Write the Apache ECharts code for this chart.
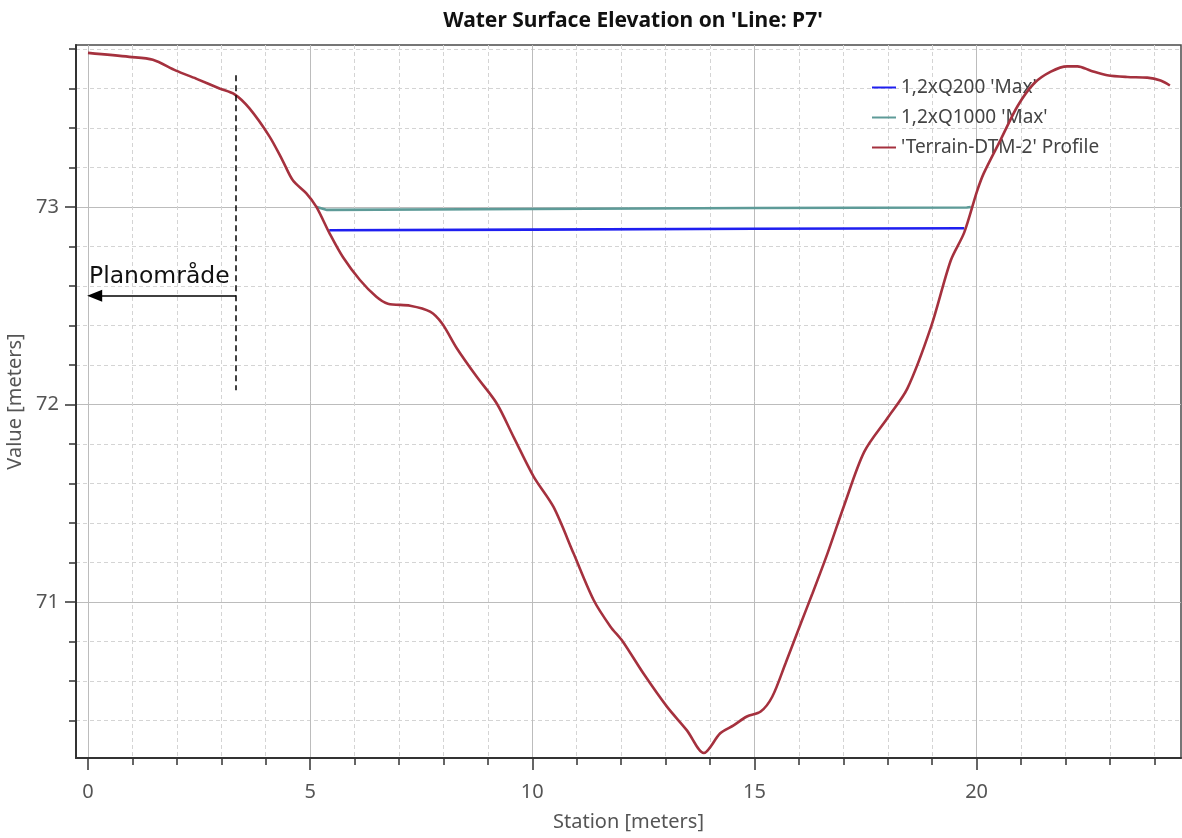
<!DOCTYPE html>
<html>
<head>
<meta charset="utf-8">
<script src="https://cdn.jsdelivr.net/npm/echarts@6/dist/echarts.min.js"></script>
<style>html,body{margin:0;padding:0;background:#fff}#chart{width:1182px;height:838px}</style>
</head>
<body>
<div id="chart"></div>
<script>
// ---- data ----
const terrainStation = [0, 0.93, 1.46, 1.98, 2.43, 2.96, 3.30, 3.63, 4.09, 4.38, 4.61, 4.91, 5.14, 5.44, 5.74, 6.12, 6.49, 6.75, 7.25, 7.70, 7.97, 8.30, 8.75, 9.20, 9.58, 10.03, 10.48, 10.93, 11.38, 11.76, 12.02, 12.51, 13.03, 13.48, 13.86, 14.23, 14.53, 14.83, 15.14, 15.40, 15.70, 16.04, 16.30, 16.65, 17.02, 17.47, 17.99, 18.44, 18.97, 19.42, 19.72, 20.01, 20.16, 20.54, 20.92, 21.29, 21.67, 22.04, 22.27, 22.57, 22.94, 23.39, 23.84, 24.14, 24.35];
const terrainElev = [73.78, 73.76, 73.745, 73.69, 73.65, 73.60, 73.57, 73.50, 73.355, 73.235, 73.135, 73.07, 73.00, 72.865, 72.745, 72.63, 72.545, 72.51, 72.50, 72.47, 72.41, 72.285, 72.14, 72.005, 71.835, 71.635, 71.48, 71.245, 71.01, 70.875, 70.805, 70.635, 70.47, 70.35, 70.235, 70.335, 70.375, 70.42, 70.445, 70.52, 70.69, 70.89, 71.04, 71.25, 71.49, 71.76, 71.93, 72.08, 72.39, 72.73, 72.87, 73.08, 73.17, 73.34, 73.51, 73.625, 73.685, 73.712, 73.712, 73.69, 73.667, 73.658, 73.655, 73.64, 73.615];
const q200Station = [5.43, 10, 15, 19.72];
const q200Elev = [72.882, 72.885, 72.89, 72.892];
const q1000Station = [5.15, 5.38, 10, 15, 19.78, 19.87];
const q1000Elev = [73.0, 72.985, 72.99, 72.995, 72.997, 73.0];
const seriesNames = ["1,2xQ200 'Max'", "1,2xQ1000 'Max'", "'Terrain-DTM-2' Profile"];
const xMajorTicks = [0, 5, 10, 15, 20];
const xMinorTicks = [0,1,2,3,4,5,6,7,8,9,10,11,12,13,14,15,16,17,18,19,20,21,22,23,24];
const yMajorTicks = [71, 72, 73];
const yMinorTicks = [70.4,70.6,70.8,71,71.2,71.4,71.6,71.8,72,72.2,72.4,72.6,72.8,73,73.2,73.4,73.6,73.8];
const xRange = [-0.27, 24.6];
const yRange = [70.21, 73.82];
// annotation (Planområde boundary)
const boundaryStation = 3.33;
const boundaryTop = 73.667;
const boundaryBottom = 72.072;
const arrowElev = 72.55;
const arrowEnd = 0.15;
const annotationText = 'Planområde';

const zip = (a, b) => a.map((v, i) => [v, b[i]]);
const FONT = 'Noto Sans';

const chart = echarts.init(document.getElementById('chart'), null, {renderer: 'canvas'});
chart.setOption({
  animation: false,
  backgroundColor: '#fff',
  title: {
    text: "Water Surface Elevation on 'Line: P7'",
    left: 628, top: 6, textAlign: 'center',
    textStyle: {fontFamily: FONT, fontSize: 21, fontWeight: 'bold', color: '#111'}
  },
  legend: {
    orient: 'vertical', left: 866, top: 73, itemWidth: 24, itemHeight: 14, itemGap: 11,
    data: seriesNames,
    itemStyle: {opacity: 0},
    textStyle: {fontFamily: FONT, fontSize: 19, color: '#444'}
  },
  grid: {left: 76, right: 1, top: 45, bottom: 80, outerBoundsMode: 'none', containLabel: false,
         show: true, borderColor: '#4a4a4a', borderWidth: 1.5, backgroundColor: 'transparent'},
  xAxis: [
    {
      type: 'value', min: xRange[0], max: xRange[1], position: 'bottom',
      axisLine: {show: true, onZero: false, lineStyle: {color: '#333', width: 2}},
      axisTick: {show: true, customValues: xMinorTicks, length: 7, lineStyle: {color: '#333', width: 1.5}},
      axisLabel: {show: false},
      splitLine: {show: true, lineStyle: {color: '#d4d4d4', width: 1, type: [4, 3]}}
    },
    {
      type: 'value', min: xRange[0], max: xRange[1], position: 'bottom',
      name: 'Station [meters]', nameLocation: 'middle', nameGap: 54,
      nameTextStyle: {fontFamily: FONT, fontSize: 20, color: '#555'},
      axisLine: {show: false, onZero: false},
      axisTick: {show: true, customValues: xMajorTicks, length: 12, lineStyle: {color: '#333', width: 1.5}},
      axisLabel: {show: true, customValues: xMajorTicks, margin: 24, fontFamily: FONT, fontSize: 20, color: '#555'},
      splitLine: {show: true, lineStyle: {color: '#bcbcbc', width: 1}}
    }
  ],
  yAxis: [
    {
      type: 'value', min: yRange[0], max: yRange[1], position: 'left',
      axisLine: {show: true, onZero: false, lineStyle: {color: '#333', width: 2}},
      axisTick: {show: true, customValues: yMinorTicks, length: 7, lineStyle: {color: '#333', width: 1.5}},
      axisLabel: {show: false},
      splitLine: {show: true, lineStyle: {color: '#d4d4d4', width: 1, type: [4, 3]}}
    },
    {
      type: 'value', min: yRange[0], max: yRange[1], position: 'left',
      name: 'Value [meters]', nameLocation: 'middle', nameGap: 36,
      nameTextStyle: {fontFamily: FONT, fontSize: 20, color: '#555'},
      axisLine: {show: false, onZero: false},
      axisTick: {show: true, customValues: yMajorTicks, length: 11, lineStyle: {color: '#333', width: 1.5}},
      axisLabel: {show: true, customValues: yMajorTicks, margin: 17, fontFamily: FONT, fontSize: 20, color: '#555'},
      splitLine: {show: true, lineStyle: {color: '#bcbcbc', width: 1}}
    }
  ],
  series: [
    {
      name: seriesNames[0], type: 'line', xAxisIndex: 0, yAxisIndex: 0,
      data: zip(q200Station, q200Elev), symbol: 'none', smooth: false,
      lineStyle: {color: '#1f1ff0', width: 2.6}, itemStyle: {color: '#1f1ff0'}, z: 3
    },
    {
      name: seriesNames[1], type: 'line', xAxisIndex: 0, yAxisIndex: 0,
      data: zip(q1000Station, q1000Elev), symbol: 'none', smooth: false,
      lineStyle: {color: '#5e9b98', width: 2.6}, itemStyle: {color: '#5e9b98'}, z: 3
    },
    {
      name: seriesNames[2], type: 'line', xAxisIndex: 0, yAxisIndex: 0,
      data: zip(terrainStation, terrainElev), symbol: 'none', smooth: 0.3,
      lineStyle: {color: '#a5313e', width: 2.6}, itemStyle: {color: '#a5313e'}, z: 4,
      markLine: {
        silent: true, animation: false,
        data: [
          [
            {coord: [boundaryStation, boundaryTop], symbol: 'none', lineStyle: {color: '#000', width: 1.5, type: [6, 4]}, label: {show: false}},
            {coord: [boundaryStation, boundaryBottom], symbol: 'none'}
          ],
          [
            {coord: [arrowEnd, arrowElev], symbol: 'triangle', symbolSize: [12, 15], lineStyle: {color: '#000', width: 1.5, type: 'solid'},
             label: {show: true, formatter: annotationText, position: 'insideMiddleTop', distance: 7, padding: [0, 12, 0, 0],
                     fontFamily: 'DejaVu Sans', fontSize: 23.5, color: '#111'}},
            {coord: [boundaryStation, arrowElev], symbol: 'none'}
          ]
        ],
        itemStyle: {color: '#000'}
      }
    }
  ]
});
</script>
</body>
</html>
